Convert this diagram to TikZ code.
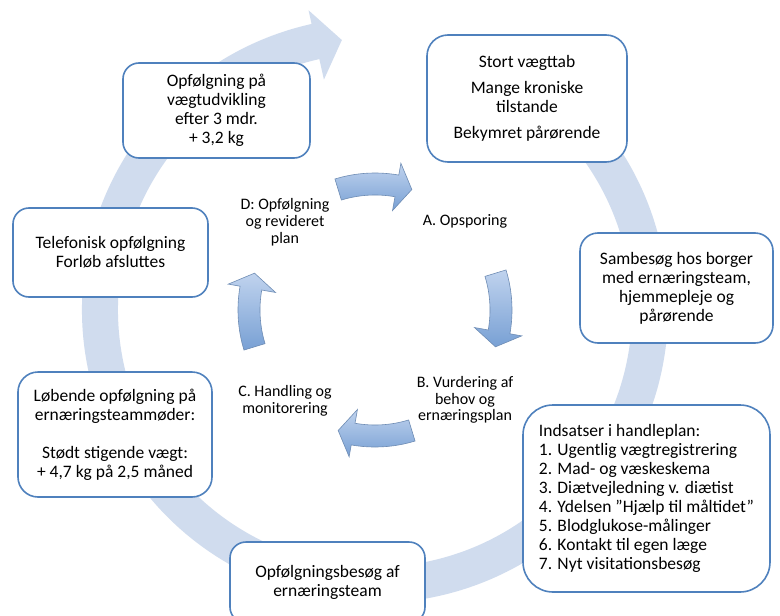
\documentclass[tikz,border=0pt]{standalone}
\usepackage{fontspec}
\setmainfont{Carlito}
\usetikzlibrary{calc}
\definecolor{boxblue}{RGB}{79,129,189}
\definecolor{bandblue}{RGB}{208,220,238}
\definecolor{arrowtop}{RGB}{192,211,238}
\definecolor{arrowbot}{RGB}{120,160,212}
\definecolor{arrowline}{RGB}{110,140,180}
\tikzstyle{cyclebox}=[draw=boxblue, line width=1.6pt, fill=white, align=center, inner sep=0pt, font=\fontsize{17.5}{19}\selectfont]
\tikzstyle{phaselabel}=[align=center, inner sep=0pt, font=\fontsize{16}{16.8}\selectfont]
\tikzstyle{phasearrowstyle}=[draw=arrowline, line width=0.6pt, top color=arrowtop, bottom color=arrowbot]
\newcommand{\phasearrow}[1]{% #1 = angle the small arrow is centred on
\pgfmathsetmacro{\arrstart}{#1+17}
\pgfmathsetmacro{\arrhead}{#1-10} % base of the head
\pgfmathsetmacro{\arrtip}{#1-17}
\path[phasearrowstyle] (\arrstart:137) arc[start angle=\arrstart, end angle=\arrhead, radius=137]
  -- (\arrhead:149) -- (\arrtip:126) -- (\arrhead:101) -- (\arrhead:115)
  arc[start angle=\arrhead, end angle=\arrstart, radius=115] -- cycle;
}

\begin{document}
\begin{tikzpicture}[x=1pt,y=1pt]
\clip (0,0) rectangle (780,-616);
\fill[white] (0,0) rectangle (780,-616);
\begin{scope}[shift={(375,-310)}]
	% big circular arrow behind the boxes
	\fill[bandblue] (60:293) arc[start angle=60, end angle=-257.5, radius=293]
	  -- (-257.5:307) -- (-263:272) -- (-257.5:236) -- (-257.5:257)
	  arc[start angle=-257.5, end angle=60, radius=257] -- cycle;
	% the four small arrows of the inner cycle
	\phasearrow{90}
	\phasearrow{0}
	\phasearrow{-90}
	\phasearrow{180}
	\node[phaselabel] (opsporing) at (90,89) {A. Opsporing};
	\node[phaselabel] (vurdering) at (90,-90) {B. Vurdering af\\behov og\\ernæringsplan};
	\node[phaselabel] (handling) at (-90,-91) {C. Handling og\\monitorering};
	\node[phaselabel] (revision) at (-90,88) {D: Opfølgning\\og revideret\\plan};
\end{scope}
\node[cyclebox, minimum width=200, minimum height=127, rounded corners=21] (screening) at (527,-98.5)
  {Stort vægttab\\[7pt]Mange kroniske\\tilstande\\[7pt]Bekymret pårørende};
\node[cyclebox, minimum width=193, minimum height=110, rounded corners=18] (jointvisit) at (676.5,-288)
  {Sambesøg hos borger\\med ernæringsteam,\\hjemmepleje og\\pårørende};
\node[cyclebox, minimum width=247, minimum height=187, rounded corners=30, align=left] (actions) at (646.5,-498.5)
  {Indsatser i handleplan:\\1. Ugentlig vægtregistrering\\2. Mad- og væskeskema\\3. Diætvejledning v. diætist\\4. Ydelsen ”Hjælp til måltidet”\\5. Blodglukose-målinger\\6. Kontakt til egen læge\\7. Nyt visitationsbesøg};
\node[cyclebox, minimum width=195, minimum height=81, rounded corners=16] (teamvisit) at (327.5,-582.5)
  {Opfølgningsbesøg af\\ernæringsteam};
\node[cyclebox, minimum width=194, minimum height=125, rounded corners=20] (meetings) at (115,-434.5)
  {Løbende opfølgning på\\ernæringsteammøder:\\[19pt]Stødt stigende vægt:\\+ 4,7 kg på 2,5 måned};
\node[cyclebox, minimum width=195, minimum height=89, rounded corners=16] (phonecall) at (110.5,-252.5)
  {Telefonisk opfølgning\\Forløb afsluttes};
\node[cyclebox, minimum width=187, minimum height=95, rounded corners=16] (weightcheck) at (216.5,-110.5)
  {Opfølgning på\\vægtudvikling\\efter 3 mdr.\\+ 3,2 kg};
\end{tikzpicture}
\end{document}
